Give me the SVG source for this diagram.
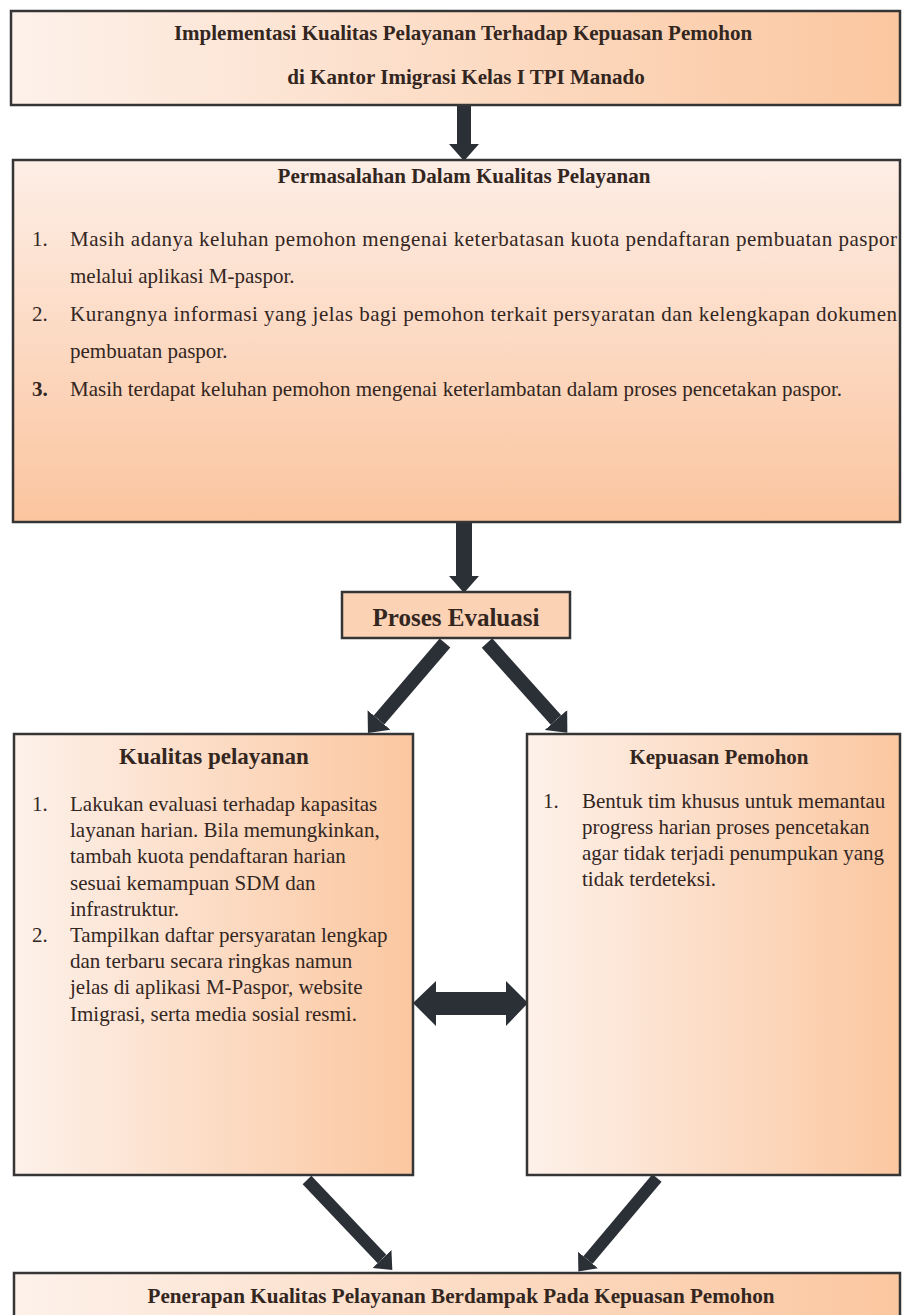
<svg xmlns="http://www.w3.org/2000/svg" width="902" height="1315" viewBox="0 0 902 1315">
  <defs>
    <linearGradient id="gH" x1="0" y1="0" x2="1" y2="0">
      <stop offset="0" stop-color="#fdf1ea"/>
      <stop offset="1" stop-color="#fbc7a0"/>
    </linearGradient>
    <linearGradient id="gV" x1="0" y1="0" x2="0" y2="1">
      <stop offset="0" stop-color="#fdeee6"/>
      <stop offset="1" stop-color="#fbc59f"/>
    </linearGradient>
    <marker id="head" markerUnits="userSpaceOnUse" markerWidth="20" markerHeight="34" refX="0" refY="15" orient="auto" viewBox="0 0 20 30">
      <path d="M0,0 L17,15 L0,30 Z" fill="#2b2f36"/>
    </marker>
    <marker id="headS" markerUnits="userSpaceOnUse" markerWidth="18" markerHeight="28" refX="0" refY="13" orient="auto" viewBox="0 0 18 26">
      <path d="M0,0 L15,13 L0,26 Z" fill="#2b2f36"/>
    </marker>
  </defs>
  <style>
    .box { stroke: #353535; stroke-width: 2.5; }
    .t { font-family: "Liberation Serif", "Times New Roman", serif; fill: #33261f; }
    .b { font-weight: bold; }
    .body { font-size: 21px; }
    .arr { stroke: #2b2f36; fill: none; }
  </style>
  <rect width="902" height="1315" fill="#ffffff"/>

  <g id="connectors">
    <line class="arr" x1="464" y1="105" x2="464" y2="144" stroke-width="14" marker-end="url(#head)"/>
    <line class="arr" x1="464" y1="522" x2="464" y2="576" stroke-width="16" marker-end="url(#head)"/>
    <line class="arr" x1="445" y1="643" x2="379" y2="720" stroke-width="14" marker-end="url(#head)"/>
    <line class="arr" x1="487" y1="643" x2="556" y2="720" stroke-width="14" marker-end="url(#head)"/>
    <line class="arr" x1="307" y1="1180" x2="382" y2="1259" stroke-width="12" marker-end="url(#headS)"/>
    <line class="arr" x1="657" y1="1178" x2="588" y2="1260" stroke-width="12" marker-end="url(#headS)"/>
    <path d="M413,1003 L436,981 L436,992 L506,992 L506,981 L528,1003 L506,1026 L506,1015 L436,1015 L436,1026 Z" fill="#2b2f36"/>
  </g>

  <g id="node-judul">
    <rect class="box" x="11" y="11" width="889" height="94" fill="url(#gH)"/>
    <text class="t b" x="463" y="40" font-size="21" text-anchor="middle">Implementasi Kualitas Pelayanan Terhadap Kepuasan Pemohon</text>
    <text class="t b" x="466" y="84" font-size="21" text-anchor="middle">di Kantor Imigrasi Kelas I TPI Manado</text>
  </g>

  <g id="node-permasalahan">
    <rect class="box" x="13" y="160" width="887" height="362" fill="url(#gV)"/>
    <text class="t b" x="464" y="183" font-size="21" text-anchor="middle">Permasalahan Dalam Kualitas Pelayanan</text>
    <text class="t body" x="32" y="246">1.</text>
    <text class="t body" x="70" y="246" textLength="827" lengthAdjust="spacing">Masih adanya keluhan pemohon mengenai keterbatasan kuota pendaftaran pembuatan paspor</text>
    <text class="t body" x="70" y="283">melalui aplikasi M-paspor.</text>
    <text class="t body" x="32" y="321">2.</text>
    <text class="t body" x="70" y="321" textLength="827" lengthAdjust="spacing">Kurangnya informasi yang jelas bagi pemohon terkait persyaratan dan kelengkapan dokumen</text>
    <text class="t body" x="70" y="358">pembuatan paspor.</text>
    <text class="t body b" x="32" y="396">3.</text>
    <text class="t body" x="70" y="396">Masih terdapat keluhan pemohon mengenai keterlambatan dalam proses pencetakan paspor.</text>
  </g>

  <g id="node-proses-evaluasi">
    <rect class="box" x="342" y="592" width="228" height="46" fill="#fbd2b4"/>
    <text class="t b" x="456" y="626" font-size="25" text-anchor="middle">Proses Evaluasi</text>
  </g>

  <g id="node-kualitas-pelayanan">
    <rect class="box" x="14" y="734" width="399" height="441" fill="url(#gH)"/>
    <text class="t b" x="214" y="764" font-size="23" text-anchor="middle">Kualitas pelayanan</text>
    <text class="t body" x="32" y="811">1.</text>
    <text class="t body" x="70" y="811">Lakukan evaluasi terhadap kapasitas</text>
    <text class="t body" x="70" y="837">layanan harian. Bila memungkinkan,</text>
    <text class="t body" x="70" y="863">tambah kuota pendaftaran harian</text>
    <text class="t body" x="70" y="890">sesuai kemampuan SDM dan</text>
    <text class="t body" x="70" y="916">infrastruktur.</text>
    <text class="t body" x="32" y="942">2.</text>
    <text class="t body" x="70" y="942">Tampilkan daftar persyaratan lengkap</text>
    <text class="t body" x="70" y="968">dan terbaru secara ringkas namun</text>
    <text class="t body" x="70" y="994">jelas di aplikasi M-Paspor, website</text>
    <text class="t body" x="70" y="1021">Imigrasi, serta media sosial resmi.</text>
  </g>

  <g id="node-kepuasan-pemohon">
    <rect class="box" x="527" y="734" width="373" height="441" fill="url(#gH)"/>
    <text class="t b" x="719" y="764" font-size="21" text-anchor="middle">Kepuasan Pemohon</text>
    <text class="t body" x="543" y="808">1.</text>
    <text class="t body" x="582" y="808">Bentuk tim khusus untuk memantau</text>
    <text class="t body" x="582" y="834">progress harian proses pencetakan</text>
    <text class="t body" x="582" y="860">agar tidak terjadi penumpukan yang</text>
    <text class="t body" x="582" y="886">tidak terdeteksi.</text>
  </g>

  <g id="node-penerapan">
    <rect class="box" x="14" y="1273" width="886" height="60" fill="url(#gH)"/>
    <text class="t b" x="461" y="1303" font-size="22" text-anchor="middle" textLength="627" lengthAdjust="spacingAndGlyphs">Penerapan Kualitas Pelayanan Berdampak Pada Kepuasan Pemohon</text>
  </g>
</svg>
